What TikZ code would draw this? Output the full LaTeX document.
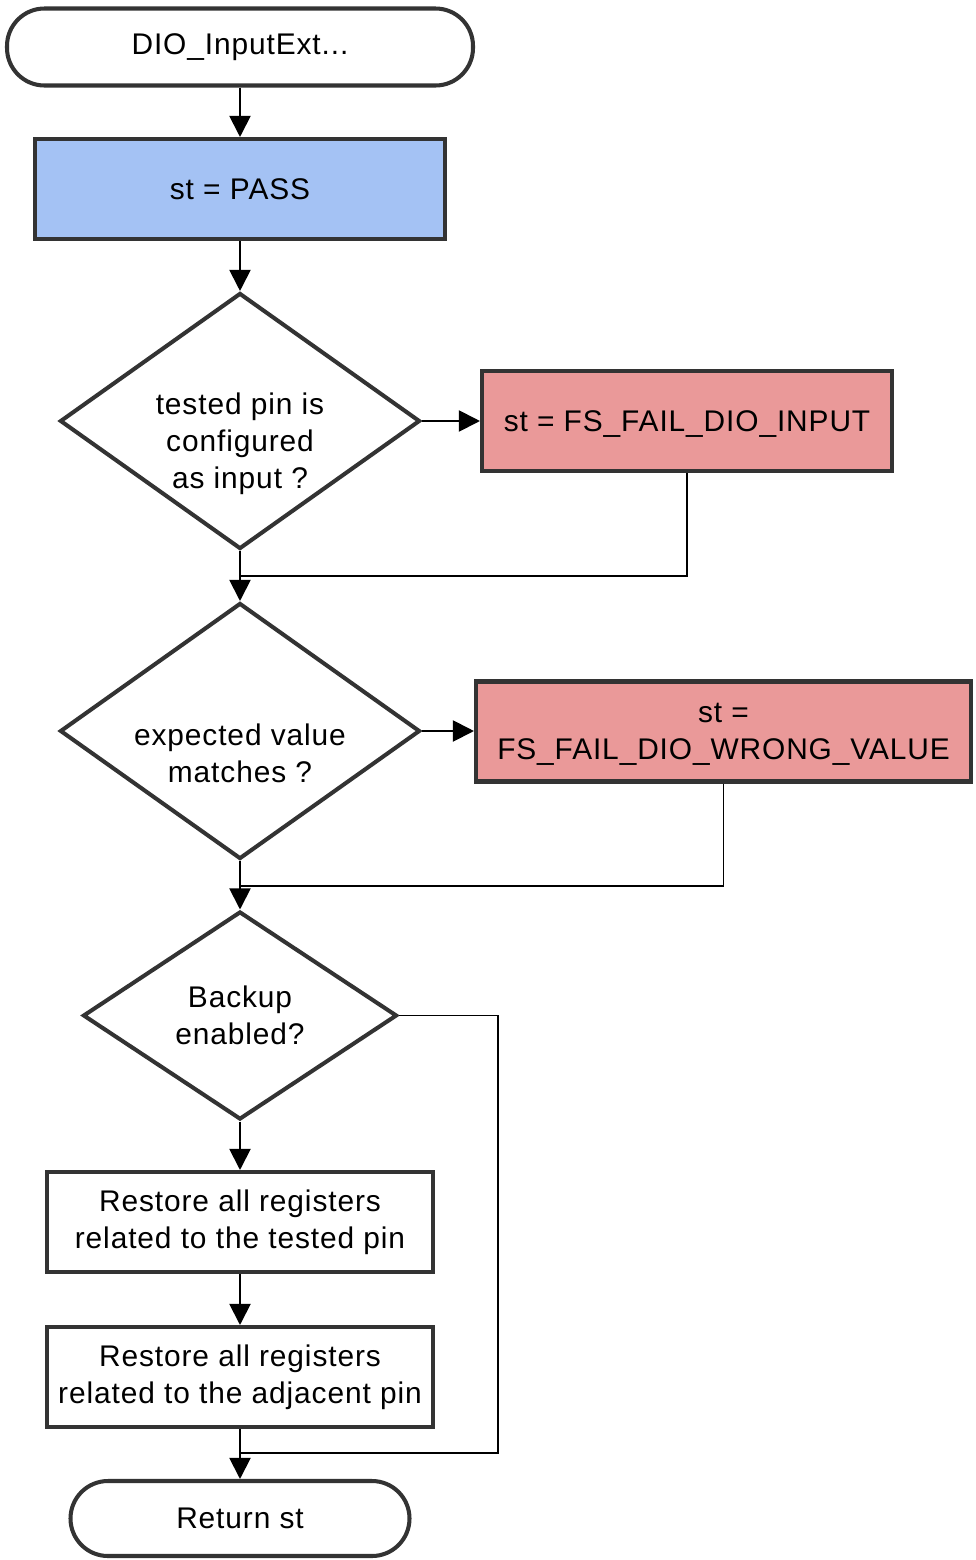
\documentclass[tikz,border=0pt]{standalone}
\usepackage{fontspec}
\setmainfont{Liberation Sans}[LetterSpace=3.0]
\usepackage{xcolor}
\usepackage{tikz}
\usetikzlibrary{shapes,arrows,positioning,calc,arrows.meta}

\definecolor{passblue}{HTML}{A4C2F4}
\definecolor{failred}{HTML}{EA9999}
\definecolor{border}{HTML}{333333}

\begin{document}
\begin{tikzpicture}[
    font=\fontsize{17}{21}\selectfont,
    terminal/.style={draw=border, line width=2.3pt, rectangle, rounded corners=0.75cm, align=center},
    process/.style={draw=border, line width=2.3pt, rectangle, align=center, minimum height=2.0cm},
    decision/.style={draw=border, line width=2.3pt, diamond, inner sep=0pt, align=center},
    lowtext/.style={align=center, yshift=-0.45cm},
    flow/.style={line width=1.1pt, -{Triangle[length=12pt,width=12pt]}},
    line/.style={line width=1.1pt}
]
    \useasboundingbox (0,0) rectangle (19.5,-31.2);

    \node[terminal, minimum width=9.32cm, minimum height=1.54cm] (start) at (4.8,-0.94) {DIO\_InputExt...};
    \node[process, fill=passblue, minimum width=8.2cm] (pass) at (4.8,-3.78) {st = PASS};

    \node[decision, minimum width=7.2cm, minimum height=5.12cm,
          label={[lowtext]center:tested pin is\\configured\\as input ?}] (cfg) at (4.8,-8.42) {};
    \node[process, fill=failred, minimum width=8.2cm, text height=0.43cm, text depth=0cm] (failinput) at (13.74,-8.42) {st = FS\_FAIL\_DIO\_INPUT};

    \node[decision, minimum width=7.2cm, minimum height=5.12cm,
          label={[lowtext]center:expected value\\matches ?}] (match) at (4.8,-14.62) {};
    \node[process, fill=failred, minimum width=9.9cm, text depth=0pt] (failvalue) at (14.47,-14.63) {st =\\FS\_FAIL\_DIO\_WRONG\_VALUE};

    \node[decision, minimum width=6.28cm, minimum height=4.16cm] (backup) at (4.8,-20.31) {Backup\\enabled?};
    \node[process, minimum width=7.72cm] (tested) at (4.8,-24.44) {Restore all registers\\related to the tested pin};
    \node[process, minimum width=7.72cm] (adjacent) at (4.8,-27.54) {Restore all registers\\related to the adjacent pin};

    \node[terminal, minimum width=6.78cm, minimum height=1.5cm] (return) at (4.8,-30.37) {Return st};

    % joins
    \coordinate (join1) at (4.8,-11.52);
    \coordinate (join2) at (4.8,-17.72);
    \coordinate (join3) at (4.8,-29.06);
    \coordinate (bypass) at (9.96,-29.06);

    \draw[flow] (start) -- (pass);
    \draw[flow] (pass) -- (cfg);
    \draw[flow] (cfg.east) -- (failinput.west);
    \draw[flow] (cfg.south) -- (match.north);
    \draw[line] (failinput.south) |- (join1);

    \draw[flow] (match.east) -- (failvalue.west |- match.east);
    \draw[flow] (match.south) -- (backup.north);
    \draw[line] (failvalue.south) |- (join2);

    \draw[flow] (backup.south) -- (tested.north);
    \draw[flow] (tested) -- (adjacent);
    \draw[flow] (adjacent) -- (return);
    \draw[line] (backup.east) -| (bypass) -- (join3);
\end{tikzpicture}
\end{document}
